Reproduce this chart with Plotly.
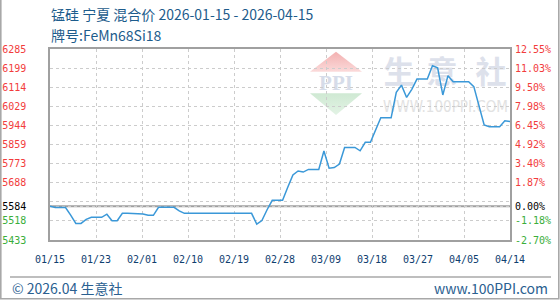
import base64
import pandas as pd
import plotly.graph_objects as go

title_line1 = "锰硅 宁夏 混合价 2026-01-15 - 2026-04-15"
title_line2 = "牌号:FeMn68Si18"
footer_left = "© 2026.04 生意社"
footer_right = "www.100PPI.com"

dates = pd.date_range("2026-01-15", "2026-04-14", freq="D")
prices = [
    5584, 5578, 5578, 5578, 5544, 5507, 5507, 5525, 5534, 5534,
    5534, 5548, 5519, 5519, 5552, 5552, 5552, 5552, 5549, 5543,
    5543, 5579, 5579, 5579, 5579, 5563, 5552, 5552, 5552, 5552,
    5552, 5552, 5552, 5552, 5552, 5552, 5552, 5552, 5552, 5552,
    5504, 5520, 5568, 5610, 5610, 5610, 5668, 5723, 5741, 5736,
    5748, 5748, 5748, 5830, 5753, 5756, 5772, 5846, 5846, 5846,
    5831, 5869, 5869, 5925, 5978, 5978, 5978, 6092, 6124, 6069,
    6105, 6151, 6151, 6151, 6210, 6201, 6080, 6166, 6139, 6139,
    6139, 6139, 6117, 6030, 5946, 5938, 5938, 5938, 5965, 5961,
]
base_price = 5584

y_tick_vals = [5433, 5518.2, 5584, 5603.4, 5688.6, 5773.8, 5859.0, 5944.2, 6029.4, 6114.6, 6199.8, 6285]
y_left_labels = ["5433", "5518", "5584", "", "5688", "5773", "5859", "5944", "6029", "6114", "6199", "6285"]
y_right_labels = ["-2.70%", "-1.18%", "0.00%", "", "1.87%", "3.40%", "4.92%", "6.45%", "7.98%", "9.50%", "11.03%", "12.55%"]
x_tick_labels = ["01/15", "01/23", "02/01", "02/10", "02/19", "02/28", "03/09", "03/18", "03/27", "04/05", "04/14"]

RED, GREEN, BLACK = "#f23c3c", "#3aae3a", "#000000"


def colored(labels, vals):
    out = []
    for lab, v in zip(labels, vals):
        c = BLACK if abs(v - base_price) < 1e-6 else (RED if v > base_price else GREEN)
        out.append(f'<span style="color:{c}">{lab}</span>' if lab else "")
    return out


day_index = [(d - dates[0]).days for d in dates]
n_days = day_index[-1]
x_tick_pos = [i * n_days / (len(x_tick_labels) - 1) for i in range(len(x_tick_labels))]

# plot-area geometry in pixels
L, R, T, B = 50, 510, 49, 240
W, H = R - L, B - T


def px(xp):
    return (xp - L) / W


def py(yp):
    return (B - yp) / H


wm_svg = """<svg xmlns="http://www.w3.org/2000/svg" width="210" height="70" viewBox="0 0 210 70">
<defs>
<linearGradient id="rg" x1="0" y1="0" x2="0" y2="1"><stop offset="0" stop-color="#f3b0b0"/><stop offset="1" stop-color="#fbdada"/></linearGradient>
<linearGradient id="gg" x1="0" y1="0" x2="0" y2="1"><stop offset="0" stop-color="#cfe9d3"/><stop offset="1" stop-color="#e3f3e5"/></linearGradient>
</defs>
<polygon points="31,1.7 5,21.7 57,21.7" fill="url(#rg)"/>
<text x="31" y="40" font-family="Liberation Serif" font-weight="bold" font-size="21" fill="#d6dce9" text-anchor="middle">PPI</text>
<polygon points="5,43.3 57,43.3 31,65" fill="url(#gg)"/>
<text x="94" y="33" font-family="Noto Sans CJK SC" font-weight="bold" font-size="31" fill="#dde1eb" text-anchor="middle">生</text>
<text x="137" y="33" font-family="Noto Sans CJK SC" font-weight="bold" font-size="31" fill="#dde1eb" text-anchor="middle">意</text>
<text x="186" y="33" font-family="Noto Sans CJK SC" font-weight="bold" font-size="31" fill="#dde1eb" text-anchor="middle">社</text>
<text x="78" y="62" font-family="DejaVu Sans" font-size="15" fill="#e2e2e2" textLength="125" lengthAdjust="spacingAndGlyphs">WWW.100PPI.COM</text>
</svg>"""
wm_uri = "data:image/svg+xml;base64," + base64.b64encode(wm_svg.encode("utf-8")).decode("ascii")

fig = go.Figure()
fig.add_trace(go.Scatter(
    x=day_index, y=prices, mode="lines",
    line=dict(color="#3a98d8", width=1.5), hoverinfo="skip", showlegend=False,
))
fig.add_trace(go.Scatter(
    x=[day_index[0]], y=[prices[0]], yaxis="y2", mode="markers",
    marker=dict(opacity=0), hoverinfo="skip", showlegend=False,
))

tick_font = dict(family="DejaVu Sans Mono", size=10)
grid = dict(showgrid=True, gridcolor="#cccccc", griddash="3px,3px", gridwidth=1)

fig.update_layout(
    width=560, height=300,
    margin=dict(l=L, r=560 - R, t=T, b=300 - B, autoexpand=False),
    paper_bgcolor="white", plot_bgcolor="rgba(0,0,0,0)",
    xaxis=dict(
        range=[0, n_days], tickmode="array", tickvals=x_tick_pos, ticktext=x_tick_labels,
        tickfont=dict(color="#0f4070", **tick_font), ticks="", ticklabelstandoff=9, automargin=False,
        showline=True, mirror=True, linecolor="#a0a0a0", linewidth=1.5, zeroline=False, **grid,
    ),
    yaxis=dict(
        range=[y_tick_vals[0], y_tick_vals[-1]], tickmode="array", tickvals=y_tick_vals,
        ticktext=colored(y_left_labels, y_tick_vals), tickfont=tick_font, ticks="",
        ticklabelstandoff=20, automargin=False,
        showline=True, mirror=True, linecolor="#a0a0a0", linewidth=1.5, zeroline=False, **grid,
    ),
    yaxis2=dict(
        overlaying="y", side="right", range=[y_tick_vals[0], y_tick_vals[-1]], tickmode="array",
        tickvals=y_tick_vals, ticktext=colored(y_right_labels, y_tick_vals), tickfont=tick_font,
        ticks="", ticklabelstandoff=4, automargin=False, showgrid=False, zeroline=False, showline=False,
    ),
    images=[dict(
        source=wm_uri, xref="paper", yref="paper", x=px(305), y=py(50),
        sizex=210 / W, sizey=70 / H, xanchor="left", yanchor="top", sizing="stretch", layer="below",
    )],
    shapes=[
        dict(type="line", xref="paper", x0=0, x1=1, yref="y", y0=base_price, y1=base_price,
             line=dict(color="#a0a0a0", width=2), layer="between"),
        dict(type="line", xref="paper", yref="paper", x0=px(10), x1=px(551), y0=py(277), y1=py(277),
             line=dict(color="#a8a8a8", width=1.5)),
        dict(type="rect", xref="paper", yref="paper", x0=px(0.8), x1=px(558.8), y0=py(-3), y1=py(298.8),
             line=dict(color="#a8a8a8", width=1.6)),
    ],
    annotations=[
        dict(text=title_line1, xref="paper", yref="paper", x=px(49), y=py(14), xanchor="left",
             yanchor="middle", showarrow=False,
             font=dict(family="Noto Sans CJK SC", size=14, color="#1d5c8c")),
        dict(text=title_line2, xref="paper", yref="paper", x=px(49), y=py(35), xanchor="left",
             yanchor="middle", showarrow=False,
             font=dict(family="Noto Sans CJK SC", size=14, color="#1d5c8c")),
        dict(text=footer_left, xref="paper", yref="paper", x=px(10), y=py(288), xanchor="left",
             yanchor="middle", showarrow=False,
             font=dict(family="Noto Sans CJK SC", size=14, color="#2a6090")),
        dict(text=footer_right, xref="paper", yref="paper", x=px(550), y=py(288), xanchor="right",
             yanchor="middle", showarrow=False,
             font=dict(family="Noto Sans CJK SC", size=14, color="#2a6090")),
    ],
)

fig.write_html("out.html")
